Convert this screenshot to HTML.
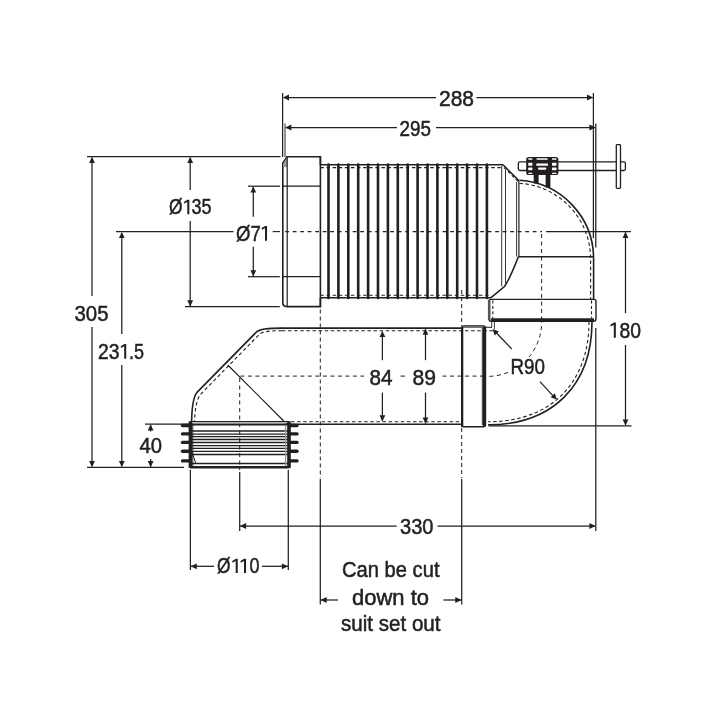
<!DOCTYPE html>
<html><head><meta charset="utf-8"><style>
html,body{margin:0;padding:0;background:#fff;}
body{width:720px;height:720px;overflow:hidden;}
svg{display:block;will-change:transform;}
text{font-family:"Liberation Sans",sans-serif;fill:#231f20;stroke:#231f20;stroke-width:0.5px;}
</style></head><body>
<svg width="720" height="720" viewBox="0 0 720 720">
<rect width="720" height="720" fill="#fff"/>
<line x1="282.6" y1="93" x2="282.6" y2="157" stroke="#231f20" stroke-width="1.25" stroke-linecap="butt"/>
<line x1="284" y1="97.5" x2="436" y2="97.5" stroke="#231f20" stroke-width="1.25" stroke-linecap="butt"/>
<line x1="476.5" y1="97.5" x2="592.5" y2="97.5" stroke="#231f20" stroke-width="1.25" stroke-linecap="butt"/>
<path d="M282.80,97.50 L289.00,94.60 L289.00,100.40 Z" fill="#231f20"/>
<path d="M593.20,97.50 L587.00,100.40 L587.00,94.60 Z" fill="#231f20"/>
<text x="439.00" y="106.3" font-size="21.5" textLength="35.00" lengthAdjust="spacingAndGlyphs">288</text>
<line x1="593.4" y1="93" x2="593.4" y2="238.3" stroke="#231f20" stroke-width="1.25" stroke-linecap="butt"/>
<line x1="285.0" y1="123.5" x2="285.0" y2="157" stroke="#777" stroke-width="1.6" stroke-linecap="butt"/>
<line x1="286" y1="127.5" x2="397" y2="127.5" stroke="#231f20" stroke-width="1.25" stroke-linecap="butt"/>
<line x1="436" y1="127.5" x2="595" y2="127.5" stroke="#231f20" stroke-width="1.25" stroke-linecap="butt"/>
<path d="M285.20,127.50 L291.40,124.60 L291.40,130.40 Z" fill="#231f20"/>
<path d="M595.60,127.50 L589.40,130.40 L589.40,124.60 Z" fill="#231f20"/>
<text x="399.50" y="135.8" font-size="21.5" textLength="31.50" lengthAdjust="spacingAndGlyphs">295</text>
<line x1="595.8" y1="123.5" x2="595.8" y2="247.5" stroke="#231f20" stroke-width="1.25" stroke-linecap="butt"/>
<line x1="87" y1="156.6" x2="280.5" y2="156.6" stroke="#231f20" stroke-width="1.25" stroke-linecap="butt"/>
<line x1="185" y1="306.6" x2="279.8" y2="306.6" stroke="#231f20" stroke-width="1.25" stroke-linecap="butt"/>
<line x1="87" y1="467.4" x2="184" y2="467.4" stroke="#231f20" stroke-width="1.25" stroke-linecap="butt"/>
<line x1="92" y1="158" x2="92" y2="296" stroke="#231f20" stroke-width="1.25" stroke-linecap="butt"/>
<line x1="92" y1="327" x2="92" y2="466" stroke="#231f20" stroke-width="1.25" stroke-linecap="butt"/>
<path d="M92.00,156.80 L94.90,163.00 L89.10,163.00 Z" fill="#231f20"/>
<path d="M92.00,467.20 L89.10,461.00 L94.90,461.00 Z" fill="#231f20"/>
<text x="74.50" y="321.2" font-size="21.5" textLength="34.00" lengthAdjust="spacingAndGlyphs">305</text>
<line x1="190.2" y1="158" x2="190.2" y2="190" stroke="#231f20" stroke-width="1.25" stroke-linecap="butt"/>
<line x1="190.2" y1="221" x2="190.2" y2="306" stroke="#231f20" stroke-width="1.25" stroke-linecap="butt"/>
<path d="M190.20,156.80 L193.10,163.00 L187.30,163.00 Z" fill="#231f20"/>
<path d="M190.20,306.40 L187.30,300.20 L193.10,300.20 Z" fill="#231f20"/>
<text x="169.00" y="214.3" font-size="21.5" textLength="13.50" lengthAdjust="spacingAndGlyphs">Ø</text>
<text x="191.50" y="214.3" font-size="21.5" textLength="20.00" lengthAdjust="spacingAndGlyphs">35</text>
<path d="M189.35,199.70 L189.35,214.30 L187.30,214.30 L187.30,202.00 L184.20,203.60 L183.80,201.90 L187.50,199.70 Z" fill="#231f20"/>
<line x1="116" y1="231.7" x2="233.5" y2="231.7" stroke="#231f20" stroke-width="1.25" stroke-linecap="butt"/>
<line x1="121.8" y1="233" x2="121.8" y2="334" stroke="#231f20" stroke-width="1.25" stroke-linecap="butt"/>
<line x1="121.8" y1="365" x2="121.8" y2="466" stroke="#231f20" stroke-width="1.25" stroke-linecap="butt"/>
<path d="M121.80,231.90 L124.70,238.10 L118.90,238.10 Z" fill="#231f20"/>
<path d="M121.80,467.20 L118.90,461.00 L124.70,461.00 Z" fill="#231f20"/>
<text x="98.00" y="358.8" font-size="21.5" textLength="21.50" lengthAdjust="spacingAndGlyphs">23</text>
<text x="129.00" y="358.8" font-size="21.5" textLength="15.00" lengthAdjust="spacingAndGlyphs">.5</text>
<path d="M126.25,344.00 L126.25,358.80 L124.20,358.80 L124.20,346.30 L121.10,347.90 L120.70,346.20 L124.40,344.00 Z" fill="#231f20"/>
<line x1="248" y1="186.2" x2="280" y2="186.2" stroke="#231f20" stroke-width="1.25" stroke-linecap="butt"/>
<line x1="248" y1="276.7" x2="279.8" y2="276.7" stroke="#231f20" stroke-width="1.25" stroke-linecap="butt"/>
<line x1="253.3" y1="187" x2="253.3" y2="216.7" stroke="#231f20" stroke-width="1.25" stroke-linecap="butt"/>
<line x1="253.3" y1="246.7" x2="253.3" y2="276" stroke="#231f20" stroke-width="1.25" stroke-linecap="butt"/>
<path d="M253.30,186.40 L256.20,192.60 L250.40,192.60 Z" fill="#231f20"/>
<path d="M253.30,276.50 L250.40,270.30 L256.20,270.30 Z" fill="#231f20"/>
<text x="236.00" y="240.7" font-size="21.5" textLength="24.75" lengthAdjust="spacingAndGlyphs">Ø7</text>
<path d="M267.05,225.90 L267.05,240.70 L265.00,240.70 L265.00,228.20 L261.90,229.80 L261.50,228.10 L265.20,225.90 Z" fill="#231f20"/>
<line x1="145" y1="424.1" x2="189" y2="424.1" stroke="#231f20" stroke-width="1.25" stroke-linecap="butt"/>
<line x1="150.6" y1="425" x2="150.6" y2="431.5" stroke="#231f20" stroke-width="1.25" stroke-linecap="butt"/>
<line x1="150.6" y1="459" x2="150.6" y2="467" stroke="#231f20" stroke-width="1.25" stroke-linecap="butt"/>
<path d="M150.60,424.30 L153.50,430.50 L147.70,430.50 Z" fill="#231f20"/>
<path d="M150.60,467.20 L147.70,461.00 L153.50,461.00 Z" fill="#231f20"/>
<text x="139.50" y="453.2" font-size="21.5" textLength="22.50" lengthAdjust="spacingAndGlyphs">40</text>
<line x1="272.7" y1="231.6" x2="280" y2="231.6" stroke="#231f20" stroke-width="1.1" stroke-linecap="butt"/>
<line x1="285.2" y1="231.6" x2="542" y2="231.6" stroke="#231f20" stroke-width="1.1" stroke-linecap="butt" stroke-dasharray="3.8 3.7"/>
<line x1="546" y1="231.6" x2="631" y2="231.6" stroke="#231f20" stroke-width="1.25" stroke-linecap="butt"/>
<line x1="541.6" y1="234" x2="541.6" y2="322" stroke="#231f20" stroke-width="1.0" stroke-linecap="butt" stroke-dasharray="4 3.5"/>
<path d="M320.4,165 L320.4,156.8 L287,156.8 L282.8,163 L282.8,302.5 Q282.8,306.6 287,306.6 L320.4,306.6 L320.4,297.8" stroke="#231f20" stroke-width="1.6" fill="none" stroke-linecap="butt" stroke-linejoin="miter"/>
<path d="M283.3,163.2 L287,157.6 L287,167 L283.3,167 Z" stroke="#231f20" stroke-width="0" fill="#9a9a9a" stroke-linecap="butt" stroke-linejoin="miter"/>
<line x1="287.2" y1="157" x2="287.2" y2="306.6" stroke="#231f20" stroke-width="1.2" stroke-linecap="butt"/>
<line x1="282.8" y1="186.2" x2="320.4" y2="186.2" stroke="#231f20" stroke-width="1.2" stroke-linecap="butt"/>
<line x1="282.8" y1="276.7" x2="320.4" y2="276.7" stroke="#231f20" stroke-width="1.2" stroke-linecap="butt"/>
<line x1="320.4" y1="156.8" x2="320.4" y2="306.6" stroke="#231f20" stroke-width="1.6" stroke-linecap="butt"/>
<line x1="320.4" y1="164.8" x2="503" y2="164.8" stroke="#231f20" stroke-width="1.6" stroke-linecap="butt"/>
<line x1="320.4" y1="297.8" x2="491" y2="297.8" stroke="#231f20" stroke-width="1.6" stroke-linecap="butt"/>
<line x1="320.4" y1="167.6" x2="503" y2="167.6" stroke="#231f20" stroke-width="1.1" stroke-linecap="butt" stroke-dasharray="3.5 2.6"/>
<line x1="320.4" y1="295.3" x2="490" y2="295.3" stroke="#231f20" stroke-width="1.1" stroke-linecap="butt" stroke-dasharray="3.5 2.6"/>
<line x1="328.5" y1="164.6" x2="328.5" y2="298.0" stroke="#231f20" stroke-width="2.6" stroke-linecap="round"/>
<line x1="338.4" y1="164.6" x2="338.4" y2="298.0" stroke="#231f20" stroke-width="2.6" stroke-linecap="round"/>
<line x1="348.3" y1="164.6" x2="348.3" y2="298.0" stroke="#231f20" stroke-width="2.6" stroke-linecap="round"/>
<line x1="358.2" y1="164.6" x2="358.2" y2="298.0" stroke="#231f20" stroke-width="2.6" stroke-linecap="round"/>
<line x1="368.1" y1="164.6" x2="368.1" y2="298.0" stroke="#231f20" stroke-width="2.6" stroke-linecap="round"/>
<line x1="378.0" y1="164.6" x2="378.0" y2="298.0" stroke="#231f20" stroke-width="2.6" stroke-linecap="round"/>
<line x1="387.9" y1="164.6" x2="387.9" y2="298.0" stroke="#231f20" stroke-width="2.6" stroke-linecap="round"/>
<line x1="397.8" y1="164.6" x2="397.8" y2="298.0" stroke="#231f20" stroke-width="2.6" stroke-linecap="round"/>
<line x1="407.7" y1="164.6" x2="407.7" y2="298.0" stroke="#231f20" stroke-width="2.6" stroke-linecap="round"/>
<line x1="417.6" y1="164.6" x2="417.6" y2="298.0" stroke="#231f20" stroke-width="2.6" stroke-linecap="round"/>
<line x1="427.5" y1="164.6" x2="427.5" y2="298.0" stroke="#231f20" stroke-width="2.6" stroke-linecap="round"/>
<line x1="437.4" y1="164.6" x2="437.4" y2="298.0" stroke="#231f20" stroke-width="2.6" stroke-linecap="round"/>
<line x1="447.3" y1="164.6" x2="447.3" y2="298.0" stroke="#231f20" stroke-width="2.6" stroke-linecap="round"/>
<line x1="457.20000000000005" y1="164.6" x2="457.20000000000005" y2="298.0" stroke="#231f20" stroke-width="2.6" stroke-linecap="round"/>
<line x1="467.1" y1="164.6" x2="467.1" y2="298.0" stroke="#231f20" stroke-width="2.6" stroke-linecap="round"/>
<line x1="477.0" y1="164.6" x2="477.0" y2="298.0" stroke="#231f20" stroke-width="2.6" stroke-linecap="round"/>
<line x1="486.9" y1="164.6" x2="486.9" y2="298.0" stroke="#231f20" stroke-width="2.6" stroke-linecap="round"/>
<path d="M503,164.8 L519,180.8" stroke="#231f20" stroke-width="1.6" fill="none" stroke-linecap="butt" stroke-linejoin="miter"/>
<path d="M504,167.6 L518,181.5" stroke="#231f20" stroke-width="1.1" fill="none" stroke-linecap="butt" stroke-linejoin="miter" stroke-dasharray="3 2.5"/>
<line x1="501.7" y1="166" x2="501.7" y2="286.5" stroke="#231f20" stroke-width="0.9" stroke-linecap="butt"/>
<line x1="505.5" y1="170" x2="505.5" y2="283.5" stroke="#231f20" stroke-width="0.9" stroke-linecap="butt"/>
<line x1="516.6" y1="182" x2="516.6" y2="256.5" stroke="#231f20" stroke-width="0.9" stroke-linecap="butt"/>
<line x1="518.9" y1="181" x2="518.9" y2="256.5" stroke="#231f20" stroke-width="1.2" stroke-linecap="butt"/>
<path d="M518.5,256.5 C514,268 509,280 504.5,286.5 L491,297.6" stroke="#231f20" stroke-width="1.6" fill="none" stroke-linecap="butt" stroke-linejoin="miter"/>
<path d="M519.5,180.3 A78.7,78.7 0 0 1 593.6,258.8 L593.6,299.5" stroke="#231f20" stroke-width="1.6" fill="none" stroke-linecap="butt" stroke-linejoin="miter"/>
<path d="M519.4,183.3 A75.7,75.7 0 0 1 590.6,258.8 L590.6,299.5" stroke="#231f20" stroke-width="1.1" fill="none" stroke-linecap="butt" stroke-linejoin="miter" stroke-dasharray="3.5 2.6"/>
<line x1="518.5" y1="256.8" x2="593.8" y2="256.8" stroke="#231f20" stroke-width="1.4" stroke-linecap="butt"/>
<path d="M489,301 Q489,299.4 491,299.4 L594,299.4 Q596,299.4 596,301.5 L596,319 Q596,321.2 593.8,321.2 L491,321.2 Q489,321.2 489,319 Z" stroke="#231f20" stroke-width="1.4" fill="none" stroke-linecap="butt" stroke-linejoin="miter"/>
<line x1="491" y1="319.7" x2="594" y2="319.7" stroke="#231f20" stroke-width="3.0" stroke-linecap="butt"/>
<line x1="489.2" y1="300.5" x2="489.2" y2="320" stroke="#555" stroke-width="2.6" stroke-linecap="butt"/>
<line x1="492.8" y1="300.5" x2="492.8" y2="318" stroke="#231f20" stroke-width="1.1" stroke-linecap="butt" stroke-dasharray="3 2.4"/>
<line x1="591.5" y1="300.5" x2="591.5" y2="318" stroke="#231f20" stroke-width="1.1" stroke-linecap="butt" stroke-dasharray="3 2.4"/>
<rect x="518.3" y="161.9" width="107.1" height="8.6" rx="1.5" stroke="#231f20" stroke-width="1.3" fill="none"/>
<rect x="616.3" y="144.6" width="4.2" height="43.8" rx="0.8" stroke="#231f20" stroke-width="1.3" fill="#fff"/>
<rect x="526.2" y="156.9" width="32.2" height="18.1" rx="2.6" fill="#231f20"/>
<rect x="528.2" y="158.2" width="4.2" height="1.6" rx="0.6" fill="#fff"/>
<rect x="552.0" y="158.2" width="4.5" height="1.6" rx="0.6" fill="#fff"/>
<rect x="528.2" y="162.8" width="4.2" height="2.9" rx="0.6" fill="#fff"/>
<rect x="552.0" y="162.8" width="4.5" height="2.9" rx="0.6" fill="#fff"/>
<rect x="528.2" y="167.6" width="4.2" height="2.6" rx="0.6" fill="#fff"/>
<rect x="552.0" y="167.6" width="4.5" height="2.6" rx="0.6" fill="#fff"/>
<rect x="528.2" y="172.8" width="4.2" height="1.3" rx="0.6" fill="#fff"/>
<rect x="552.0" y="172.8" width="4.5" height="1.3" rx="0.6" fill="#fff"/>
<rect x="536.5" y="158.2" width="11.2" height="1.6" rx="0.6" fill="#fff"/>
<rect x="536.2" y="163.4" width="11.8" height="2.3" rx="0.6" fill="#fff"/>
<rect x="538.0" y="167.6" width="8.3" height="2.2" rx="1.0" fill="#fff"/>
<rect x="533.7" y="174.5" width="4.9" height="9.0" rx="0" fill="#231f20"/>
<rect x="545.6" y="174.5" width="4.8" height="13.0" rx="0" fill="#231f20"/>
<line x1="281" y1="328.1" x2="461.6" y2="328.1" stroke="#231f20" stroke-width="1.6" stroke-linecap="butt"/>
<path d="M282,328.1 C268,328.1 259.5,329.0 256.7,331.8 L197,392.4 C193,397 191.8,410 191.6,421.6" stroke="#231f20" stroke-width="1.6" fill="none" stroke-linecap="butt" stroke-linejoin="miter"/>
<path d="M282,330.7 C270,330.7 262.2,331.5 259.5,334.2 L200.3,394.6 C196.8,399 194.8,410 194.6,421" stroke="#231f20" stroke-width="1.1" fill="none" stroke-linecap="butt" stroke-linejoin="miter" stroke-dasharray="3.5 2.6"/>
<line x1="282" y1="330.7" x2="494" y2="330.7" stroke="#231f20" stroke-width="1.1" stroke-linecap="butt" stroke-dasharray="3.5 2.6"/>
<line x1="284" y1="424.3" x2="461.6" y2="424.3" stroke="#231f20" stroke-width="1.6" stroke-linecap="butt"/>
<line x1="291" y1="421.7" x2="461.6" y2="421.7" stroke="#231f20" stroke-width="1.1" stroke-linecap="butt" stroke-dasharray="3.5 2.6"/>
<line x1="227.8" y1="365" x2="284.2" y2="421.5" stroke="#231f20" stroke-width="1.2" stroke-linecap="butt"/>
<line x1="240.4" y1="376.1" x2="364" y2="376.1" stroke="#231f20" stroke-width="1.0" stroke-linecap="butt" stroke-dasharray="4 3.5"/>
<line x1="400.5" y1="376.1" x2="405" y2="376.1" stroke="#231f20" stroke-width="1.0" stroke-linecap="butt"/>
<line x1="442.5" y1="376.1" x2="482" y2="376.1" stroke="#231f20" stroke-width="1.0" stroke-linecap="butt" stroke-dasharray="4 3.5"/>
<line x1="382.4" y1="331.5" x2="382.4" y2="360.2" stroke="#231f20" stroke-width="1.25" stroke-linecap="butt"/>
<line x1="382.4" y1="392.6" x2="382.4" y2="421" stroke="#231f20" stroke-width="1.25" stroke-linecap="butt"/>
<path d="M382.40,330.90 L385.30,337.10 L379.50,337.10 Z" fill="#231f20"/>
<path d="M382.40,421.40 L379.50,415.20 L385.30,415.20 Z" fill="#231f20"/>
<text x="369.50" y="384.9" font-size="21.5" textLength="23.00" lengthAdjust="spacingAndGlyphs">84</text>
<line x1="425.5" y1="329" x2="425.5" y2="360.2" stroke="#231f20" stroke-width="1.25" stroke-linecap="butt"/>
<line x1="425.5" y1="392.6" x2="425.5" y2="423.5" stroke="#231f20" stroke-width="1.25" stroke-linecap="butt"/>
<path d="M425.50,328.60 L428.40,334.80 L422.60,334.80 Z" fill="#231f20"/>
<path d="M425.50,423.80 L422.60,417.60 L428.40,417.60 Z" fill="#231f20"/>
<text x="412.50" y="384.9" font-size="21.5" textLength="23.50" lengthAdjust="spacingAndGlyphs">89</text>
<path d="M482,376.1 A54,54 0 0 0 541.6,322" stroke="#231f20" stroke-width="1.0" fill="none" stroke-linecap="butt" stroke-linejoin="miter" stroke-dasharray="4 3.5"/>
<line x1="239.7" y1="378" x2="239.7" y2="470" stroke="#231f20" stroke-width="1.0" stroke-linecap="butt" stroke-dasharray="4 3.5"/>
<line x1="239.7" y1="472" x2="239.7" y2="531" stroke="#231f20" stroke-width="1.25" stroke-linecap="butt"/>
<line x1="320.3" y1="309.5" x2="320.3" y2="478" stroke="#231f20" stroke-width="1.0" stroke-linecap="butt" stroke-dasharray="4 3"/>
<line x1="320.3" y1="479" x2="320.3" y2="604.5" stroke="#231f20" stroke-width="1.25" stroke-linecap="butt"/>
<line x1="461.7" y1="290" x2="461.7" y2="326" stroke="#231f20" stroke-width="1.0" stroke-linecap="butt" stroke-dasharray="4 3"/>
<line x1="461.7" y1="428" x2="461.7" y2="478" stroke="#231f20" stroke-width="1.0" stroke-linecap="butt" stroke-dasharray="4 3"/>
<line x1="461.7" y1="479" x2="461.7" y2="604.5" stroke="#231f20" stroke-width="1.25" stroke-linecap="butt"/>
<path d="M461.7,427 L461.7,328 Q461.7,326 463.7,326 L483.5,326 Q485.5,326 485.5,328 L485.5,424.8 Q485.5,426.8 483.5,426.8 L463.7,426.8 Q461.7,426.8 461.7,424.8" stroke="#231f20" stroke-width="1.4" fill="none" stroke-linecap="butt" stroke-linejoin="miter"/>
<line x1="462.5" y1="327" x2="484.5" y2="327" stroke="#666" stroke-width="1.8" stroke-linecap="butt"/>
<line x1="484.2" y1="327" x2="484.2" y2="426" stroke="#231f20" stroke-width="2.8" stroke-linecap="butt"/>
<line x1="482.3" y1="328" x2="482.3" y2="425" stroke="#231f20" stroke-width="0.9" stroke-linecap="butt"/>
<line x1="462.6" y1="327" x2="462.6" y2="426" stroke="#231f20" stroke-width="1.4" stroke-linecap="butt"/>
<line x1="485.5" y1="327.3" x2="492" y2="327.3" stroke="#231f20" stroke-width="1.0" stroke-linecap="butt"/>
<path d="M592,321.5 C592,385.4 552.5,424.8 488,424.8" stroke="#231f20" stroke-width="1.6" fill="none" stroke-linecap="butt" stroke-linejoin="miter"/>
<path d="M589,321.5 C589,383.5 550.6,421.8 488,421.8" stroke="#231f20" stroke-width="1.1" fill="none" stroke-linecap="butt" stroke-linejoin="miter" stroke-dasharray="3.5 2.6"/>
<line x1="491.7" y1="321.5" x2="491.7" y2="327.5" stroke="#231f20" stroke-width="0.9" stroke-linecap="butt"/>
<line x1="494.4" y1="321.5" x2="494.4" y2="329" stroke="#231f20" stroke-width="0.9" stroke-linecap="butt"/>
<line x1="511.7" y1="349" x2="496" y2="332.5" stroke="#231f20" stroke-width="1.25" stroke-linecap="butt"/>
<path d="M492.60,329.00 L498.93,331.61 L494.65,335.53 Z" fill="#231f20"/>
<line x1="540" y1="381.7" x2="553.5" y2="396.3" stroke="#231f20" stroke-width="1.25" stroke-linecap="butt"/>
<path d="M557.00,399.80 L550.64,397.27 L554.87,393.30 Z" fill="#231f20"/>
<rect x="509.5" y="357" width="37" height="19" rx="0" fill="#fff"/>
<text x="510.50" y="374.2" font-size="21.5" textLength="34.50" lengthAdjust="spacingAndGlyphs">R90</text>
<line x1="595.8" y1="328" x2="595.8" y2="531" stroke="#231f20" stroke-width="1.25" stroke-linecap="butt"/>
<line x1="488.5" y1="425.8" x2="631.5" y2="425.8" stroke="#231f20" stroke-width="1.25" stroke-linecap="butt"/>
<line x1="625.5" y1="232.5" x2="625.5" y2="313.2" stroke="#231f20" stroke-width="1.25" stroke-linecap="butt"/>
<line x1="625.5" y1="345" x2="625.5" y2="425" stroke="#231f20" stroke-width="1.25" stroke-linecap="butt"/>
<path d="M625.50,231.80 L628.40,238.00 L622.60,238.00 Z" fill="#231f20"/>
<path d="M625.50,425.60 L622.60,419.40 L628.40,419.40 Z" fill="#231f20"/>
<text x="619.50" y="337.7" font-size="21.5" textLength="21.50" lengthAdjust="spacingAndGlyphs">80</text>
<path d="M615.85,322.60 L615.85,337.70 L613.80,337.70 L613.80,324.90 L610.70,326.50 L610.30,324.80 L614.00,322.60 Z" fill="#231f20"/>
<line x1="182.5" y1="425.5" x2="190" y2="425.5" stroke="#231f20" stroke-width="3.4" stroke-linecap="round"/>
<line x1="290" y1="425.5" x2="297.0" y2="425.5" stroke="#231f20" stroke-width="3.4" stroke-linecap="round"/>
<line x1="182.5" y1="433.9" x2="190" y2="433.9" stroke="#231f20" stroke-width="3.4" stroke-linecap="round"/>
<line x1="290" y1="433.9" x2="297.0" y2="433.9" stroke="#231f20" stroke-width="3.4" stroke-linecap="round"/>
<line x1="182.5" y1="442.4" x2="190" y2="442.4" stroke="#231f20" stroke-width="3.4" stroke-linecap="round"/>
<line x1="290" y1="442.4" x2="297.0" y2="442.4" stroke="#231f20" stroke-width="3.4" stroke-linecap="round"/>
<line x1="182.5" y1="451.2" x2="190" y2="451.2" stroke="#231f20" stroke-width="3.4" stroke-linecap="round"/>
<line x1="290" y1="451.2" x2="297.0" y2="451.2" stroke="#231f20" stroke-width="3.4" stroke-linecap="round"/>
<line x1="182.5" y1="460.9" x2="190" y2="460.9" stroke="#231f20" stroke-width="3.4" stroke-linecap="round"/>
<line x1="290" y1="460.9" x2="297.0" y2="460.9" stroke="#231f20" stroke-width="3.4" stroke-linecap="round"/>
<rect x="188.6" y="421.4" width="3.6" height="46.5" rx="0" fill="#231f20"/>
<rect x="287.2" y="421.4" width="3.6" height="46.5" rx="0" fill="#231f20"/>
<line x1="190" y1="421.6" x2="289" y2="421.6" stroke="#231f20" stroke-width="1.2" stroke-linecap="butt"/>
<line x1="190" y1="424.4" x2="289" y2="424.4" stroke="#231f20" stroke-width="2.4" stroke-linecap="butt"/>
<line x1="191" y1="431.0" x2="288" y2="431.0" stroke="#231f20" stroke-width="1.35" stroke-linecap="butt"/>
<line x1="191" y1="434.1" x2="288" y2="434.1" stroke="#231f20" stroke-width="1.35" stroke-linecap="butt"/>
<line x1="191" y1="436.6" x2="288" y2="436.6" stroke="#231f20" stroke-width="1.35" stroke-linecap="butt"/>
<line x1="191" y1="439.5" x2="288" y2="439.5" stroke="#231f20" stroke-width="1.35" stroke-linecap="butt"/>
<line x1="191" y1="442.5" x2="288" y2="442.5" stroke="#231f20" stroke-width="1.35" stroke-linecap="butt"/>
<line x1="191" y1="445.6" x2="288" y2="445.6" stroke="#231f20" stroke-width="1.35" stroke-linecap="butt"/>
<line x1="191" y1="448.4" x2="288" y2="448.4" stroke="#231f20" stroke-width="1.35" stroke-linecap="butt"/>
<line x1="191" y1="451.4" x2="288" y2="451.4" stroke="#231f20" stroke-width="1.35" stroke-linecap="butt"/>
<line x1="191" y1="454.5" x2="288" y2="454.5" stroke="#231f20" stroke-width="1.35" stroke-linecap="butt"/>
<line x1="191" y1="463.6" x2="288" y2="463.6" stroke="#231f20" stroke-width="1.5" stroke-linecap="butt"/>
<line x1="192.8" y1="425" x2="192.8" y2="466" stroke="#231f20" stroke-width="0.9" stroke-linecap="butt"/>
<line x1="285.6" y1="425" x2="285.6" y2="466" stroke="#999" stroke-width="1.4" stroke-linecap="butt"/>
<line x1="190" y1="467.2" x2="289" y2="467.2" stroke="#231f20" stroke-width="2.6" stroke-linecap="butt"/>
<path d="M192,452 L196,464" stroke="#231f20" stroke-width="1.0" fill="none" stroke-linecap="butt" stroke-linejoin="miter"/>
<line x1="193.5" y1="422.8" x2="286" y2="422.8" stroke="#bbb" stroke-width="1.4" stroke-linecap="butt"/>
<line x1="190.4" y1="470" x2="190.4" y2="570" stroke="#231f20" stroke-width="1.25" stroke-linecap="butt"/>
<line x1="288.3" y1="470" x2="288.3" y2="570" stroke="#231f20" stroke-width="1.25" stroke-linecap="butt"/>
<line x1="191" y1="566.3" x2="214" y2="566.3" stroke="#231f20" stroke-width="1.25" stroke-linecap="butt"/>
<line x1="262" y1="566.3" x2="288" y2="566.3" stroke="#231f20" stroke-width="1.25" stroke-linecap="butt"/>
<path d="M190.60,566.30 L196.80,563.40 L196.80,569.20 Z" fill="#231f20"/>
<path d="M288.10,566.30 L281.90,569.20 L281.90,563.40 Z" fill="#231f20"/>
<text x="217.00" y="573.1" font-size="21.5" textLength="13.50" lengthAdjust="spacingAndGlyphs">Ø</text>
<text x="249.50" y="573.1" font-size="21.5" textLength="10.00" lengthAdjust="spacingAndGlyphs">0</text>
<path d="M237.75,558.80 L237.75,573.10 L235.70,573.10 L235.70,561.10 L232.60,562.70 L232.20,561.00 L235.90,558.80 Z" fill="#231f20"/>
<path d="M246.05,558.80 L246.05,573.10 L244.00,573.10 L244.00,561.10 L240.90,562.70 L240.50,561.00 L244.20,558.80 Z" fill="#231f20"/>
<line x1="240.2" y1="526.0" x2="396.6" y2="526.0" stroke="#231f20" stroke-width="1.25" stroke-linecap="butt"/>
<line x1="437.5" y1="526.0" x2="594.8" y2="526.0" stroke="#231f20" stroke-width="1.25" stroke-linecap="butt"/>
<path d="M239.90,526.00 L246.10,523.10 L246.10,528.90 Z" fill="#231f20"/>
<path d="M595.60,526.00 L589.40,528.90 L589.40,523.10 Z" fill="#231f20"/>
<text x="400.00" y="534.0" font-size="21.5" textLength="33.50" lengthAdjust="spacingAndGlyphs">330</text>
<line x1="321" y1="600" x2="338" y2="600" stroke="#231f20" stroke-width="1.25" stroke-linecap="butt"/>
<line x1="443.3" y1="600" x2="461" y2="600" stroke="#231f20" stroke-width="1.25" stroke-linecap="butt"/>
<path d="M320.50,600.00 L326.70,597.10 L326.70,602.90 Z" fill="#231f20"/>
<path d="M461.50,600.00 L455.30,602.90 L455.30,597.10 Z" fill="#231f20"/>
<text x="342.00" y="577.1" font-size="21.5" textLength="97.50" lengthAdjust="spacingAndGlyphs">Can be cut</text>
<text x="352.00" y="604.7" font-size="21.5" textLength="77.00" lengthAdjust="spacingAndGlyphs">down to</text>
<text x="341.00" y="631.4" font-size="21.5" textLength="99.50" lengthAdjust="spacingAndGlyphs">suit set out</text>
</svg>
</body></html>
